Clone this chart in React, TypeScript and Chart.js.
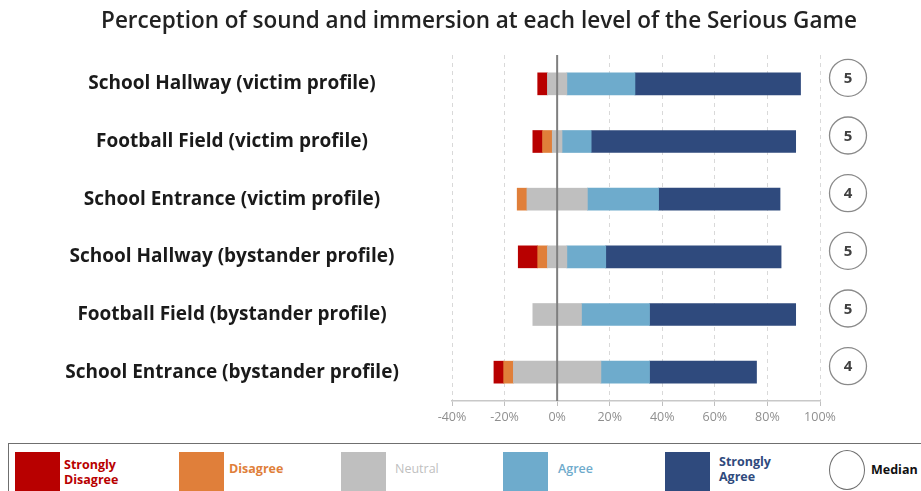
import React, { useEffect, useRef } from "react";
import { Chart, registerables } from "chart.js";
Chart.register(...registerables);

const title = "Perception of sound and immersion at each level of the Serious Game";
const categories = [
  "School Hallway (victim profile)",
  "Football Field (victim profile)",
  "School Entrance (victim profile)",
  "School Hallway (bystander profile)",
  "Football Field (bystander profile)",
  "School Entrance (bystander profile)",
];
const stronglyDisagree = [3.7, 3.7, 0, 7.4, 0, 3.7];
const disagree = [0, 3.7, 3.7, 3.7, 0, 3.7];
const neutral = [7.4, 3.7, 23.0, 7.4, 18.5, 33.3];
const agree = [25.9, 11.1, 27.1, 14.8, 25.9, 18.5];
const stronglyAgree = [63.0, 77.8, 46.2, 66.7, 55.6, 40.7];
const medians = [5, 5, 4, 5, 5, 4];
const xTicks = [-40, -20, 0, 20, 40, 60, 80, 100];

const COLORS = {
  sd: "#b80000",
  d: "#e07f3a",
  n: "#bfbfbf",
  a: "#6eabcc",
  sa: "#2f4a7d",
};

const FONT = "'Open Sans', 'Noto Sans', sans-serif";
const LABEL_SIZE = 19;
const LABEL_FONT = `bold ${LABEL_SIZE}px ${FONT}`;
const LABEL_CENTER_X = 232;
const PLOT_LEFT = 452;

export default function App() {
  const canvasRef = useRef<HTMLCanvasElement | null>(null);

  useEffect(() => {
    document.body.style.margin = "0";
    const canvas = canvasRef.current;
    if (!canvas) return;
    const ctx = canvas.getContext("2d")!;
    ctx.font = LABEL_FONT;
    const widest = Math.max(...categories.map((c) => ctx.measureText(c).width));
    const labelPadding = PLOT_LEFT - LABEL_CENTER_X - widest / 2;

    const overlay = {
      id: "overlay",
      afterDatasetsDraw(chart: any) {
        const c = chart.ctx;
        const xs = chart.scales.x;
        const area = chart.chartArea;
        const x0 = xs.getPixelForValue(0);
        c.save();
        c.strokeStyle = "#7f7f7f";
        c.lineWidth = 2;
        c.beginPath();
        c.moveTo(x0, area.top);
        c.lineTo(x0, area.bottom);
        c.stroke();
        c.restore();
      },
      afterDraw(chart: any) {
        const c = chart.ctx;
        const ys = chart.scales.y;
        c.save();
        c.fillStyle = "#222222";
        c.font = `600 22.5px ${FONT}`;
        c.textAlign = "center";
        c.textBaseline = "middle";
        c.fillText(title, 479, 22);
        medians.forEach((m, i) => {
          const y = ys.getPixelForValue(i) - 6;
          const x = 848;
          c.beginPath();
          c.arc(x, y, 18.5, 0, Math.PI * 2);
          c.strokeStyle = "#8a8a8a";
          c.lineWidth = 1.3;
          c.stroke();
          c.fillStyle = "#404040";
          c.font = `bold 15px ${FONT}`;
          c.fillText(String(m), x, y + 1);
        });
        c.restore();
      },
    };

    const nz = (v: number) => (v === 0 ? null : v);
    const half = (arr: number[], sign: number) => arr.map((v) => nz((sign * v) / 2));
    const neg = (arr: number[]) => arr.map((v) => nz(-v));
    const pos = (arr: number[]) => arr.map((v) => nz(v));

    const chart = new Chart(canvas, {
      type: "bar",
      data: {
        labels: categories,
        datasets: [
          { label: "Neutral", data: half(neutral, -1), backgroundColor: COLORS.n },
          { label: "Disagree", data: neg(disagree), backgroundColor: COLORS.d },
          { label: "Strongly Disagree", data: neg(stronglyDisagree), backgroundColor: COLORS.sd },
          { label: "Neutral ", data: half(neutral, 1), backgroundColor: COLORS.n },
          { label: "Agree", data: pos(agree), backgroundColor: COLORS.a },
          { label: "Strongly Agree", data: pos(stronglyAgree), backgroundColor: COLORS.sa },
        ],
      },
      options: {
        indexAxis: "y",
        responsive: false,
        animation: false,
        devicePixelRatio: 1,
        layout: { padding: { top: 55, right: 101, bottom: 0, left: 0 } },
        datasets: { bar: { barThickness: 22, borderWidth: 0, borderSkipped: false } },
        plugins: {
          legend: { display: false },
          title: { display: false },
          tooltip: { enabled: false },
        },
        scales: {
          x: {
            stacked: true,
            min: -40,
            max: 100,
            afterBuildTicks: (scale: any) => {
              scale.ticks = xTicks.map((v) => ({ value: v }));
            },
            afterFit: (scale: any) => {
              scale.height = 39;
              scale.paddingLeft = 0;
              scale.paddingRight = 0;
            },
            ticks: {
              callback: (v: any) => `${v}%`,
              color: "#8f8f8f",
              font: { family: FONT, size: 12.5 },
              padding: 4,
            },
            grid: {
              color: "#d9d9d9",
              lineWidth: 1,
              tickLength: 5,
              tickColor: "#bfbfbf",
              tickWidth: 1,
            },
            border: {
              display: true,
              color: "#c8c8c8",
              width: 1.5,
              dash: (ctx: any) => (ctx && ctx.tick ? [4, 4] : []),
            },
          },
          y: {
            stacked: true,
            afterFit: (scale: any) => {
              scale.width = PLOT_LEFT;
              scale.paddingTop = 0;
              scale.paddingBottom = 0;
            },
            grid: { display: false, drawTicks: false, tickLength: 0 },
            border: { display: false },
            ticks: {
              crossAlign: "center",
              padding: labelPadding,
              color: "#1a1a1a",
              font: { family: FONT, size: LABEL_SIZE, weight: "bold" },
            },
          },
        },
      },
      plugins: [overlay],
    } as any);

    return () => chart.destroy();
  }, []);

  const sq = (left: number, color: string) => (
    <div style={{ position: "absolute", left, top: 452, width: 45, height: 45, background: color }} />
  );
  const txt = (left: number, top: number, color: string, content: React.ReactNode, weight = 700) => (
    <div
      style={{
        position: "absolute",
        left,
        top,
        color,
        fontFamily: FONT,
        fontWeight: weight,
        fontSize: 12.5,
        lineHeight: "15px",
        whiteSpace: "nowrap",
      }}
    >
      {content}
    </div>
  );

  return (
    <div style={{ position: "relative", width: 921, height: 491, overflow: "hidden", background: "#fff" }}>
      <canvas ref={canvasRef} width={921} height={440} style={{ position: "absolute", left: 0, top: 0 }} />
      <div
        style={{
          position: "absolute",
          left: 8,
          top: 443,
          width: 940,
          height: 80,
          border: "1.5px solid #6f6f6f",
          boxSizing: "border-box",
        }}
      />
      {sq(15, COLORS.sd)}
      {txt(64, 457, COLORS.sd, <>Strongly<br />Disagree</>)}
      {sq(179, COLORS.d)}
      {txt(229, 461, COLORS.d, "Disagree")}
      {sq(341, COLORS.n)}
      {txt(395, 461, COLORS.n, "Neutral", 400)}
      {sq(503, COLORS.a)}
      {txt(558, 461, COLORS.a, "Agree", 600)}
      {sq(665, COLORS.sa)}
      {txt(719, 454, COLORS.sa, <>Strongly<br />Agree</>)}
      <div
        style={{
          position: "absolute",
          left: 829,
          top: 450,
          width: 36,
          height: 40,
          borderRadius: "50%",
          border: "1.5px solid #6f6f6f",
          boxSizing: "border-box",
        }}
      />
      {txt(871, 462, "#111", "Median")}
    </div>
  );
}
